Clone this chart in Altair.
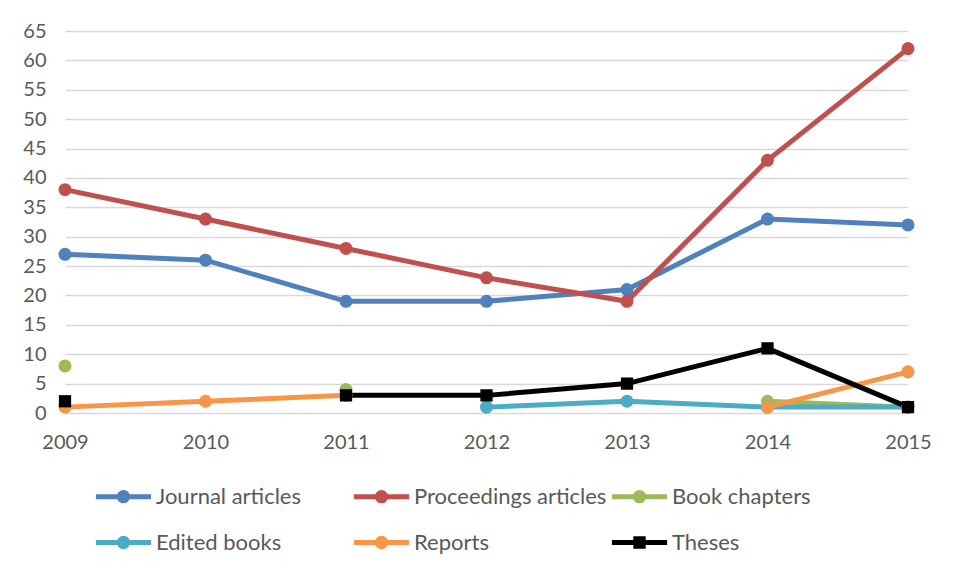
import altair as alt
import pandas as pd

years = [2009, 2010, 2011, 2012, 2013, 2014, 2015]
series_names = ["Journal articles", "Proceedings articles", "Book chapters",
                "Edited books", "Reports", "Theses"]
journal_articles = [27, 26, 19, 19, 21, 33, 32]
proceedings_articles = [38, 33, 28, 23, 19, 43, 62]
book_chapters = [8, None, 4, None, None, 2, 1]
edited_books = [None, None, None, 1, 2, 1, 1]
reports = [1, 2, 3, None, None, 1, 7]
theses = [2, None, 3, 3, 5, 11, 1]
y_ticks = [0, 5, 10, 15, 20, 25, 30, 35, 40, 45, 50, 55, 60, 65]
colors = ["#4F81BD", "#C0504D", "#9BBB59", "#4BACC6", "#F79646", "#000000"]

values = [journal_articles, proceedings_articles, book_chapters,
          edited_books, reports, theses]
rows = []
for si, (name, vals) in enumerate(zip(series_names, values)):
    for y, v in zip(years, vals):
        rows.append({"year": y, "series": name, "order": si, "value": v})
df = pd.DataFrame(rows)

FONT = "Lato"
TXT = "#595959"

line_circle = "M-1.2,0L1.2,0M-0.18,0A0.18,0.18 0 1,1 0.18,0A0.18,0.18 0 1,1 -0.18,0Z"
line_square = "M-1.2,0L1.2,0M-0.16,-0.16H0.16V0.16H-0.16Z"
legend_shapes = [line_circle] * 5 + [line_square]

legend = alt.Legend(
    title=None, orient="none", legendX=33, legendY=440, columns=3,
    direction="horizontal", gridAlign="all", columnPadding=-6, rowPadding=6,
    labelFont=FONT, labelFontSize=22, labelColor=TXT, labelOffset=7,
    symbolSize=2116, symbolStrokeWidth=5, padding=0, labelLimit=400,
)
color_scale = alt.Scale(domain=series_names, range=colors)

x_enc = alt.X("year:Q", scale=alt.Scale(domain=[2009, 2015], nice=False, zero=False),
              axis=alt.Axis(title=None, values=years, format="d", grid=False,
                            ticks=False, domain=False, labelFont=FONT,
                            labelFontSize=20, labelColor=TXT, labelPadding=19,
                            labelFlush=False, labelOverlap=False, tickCount=20))
y_enc = alt.Y("value:Q", scale=alt.Scale(domain=[0, 65], nice=False, zero=True),
              axis=alt.Axis(title=None, values=y_ticks, tickCount=30, grid=True,
                            gridColor="#D9D9D9", gridWidth=1.3, ticks=False,
                            domain=False, labelFont=FONT, labelFontSize=20,
                            labelColor=TXT, labelPadding=19, labelOverlap=False,
                            labelFlush=False))
color_enc = alt.Color("series:N", scale=color_scale, legend=legend)

base = alt.Chart(df)

lines = base.mark_line(strokeWidth=5, invalid="break-paths-filter-domains").encode(
    x=x_enc, y=y_enc, color=color_enc, order=alt.Order("year:Q"),
)

circles = base.transform_filter(
    "isValid(datum.value) && datum.series != 'Theses'"
).mark_point(filled=True, size=170, opacity=1, shape="circle").encode(
    x=x_enc, y=y_enc, color=color_enc,
)

squares = base.transform_filter(
    "isValid(datum.value) && datum.series == 'Theses'"
).mark_point(filled=True, size=150, opacity=1, shape="square").encode(
    x=x_enc, y=y_enc, color=color_enc,
)

legend_layer = base.transform_filter("false").mark_point(
    filled=True, opacity=1, strokeWidth=5
).encode(
    x=x_enc, y=y_enc, color=color_enc,
    stroke=alt.Stroke("series:N", scale=alt.Scale(domain=series_names, range=colors), legend=legend),
    shape=alt.Shape("series:N", scale=alt.Scale(domain=series_names, range=legend_shapes), legend=legend),
)

chart = alt.layer(lines, circles, squares, legend_layer).properties(
    width=843, height=382,
    autosize=alt.AutoSizeParams(type="none"),
    padding={"left": 65, "top": 31, "right": 53, "bottom": 163},
    background="white",
).configure_view(stroke=None)

chart.save("out.html", embed_options={"renderer": "svg", "actions": False})
